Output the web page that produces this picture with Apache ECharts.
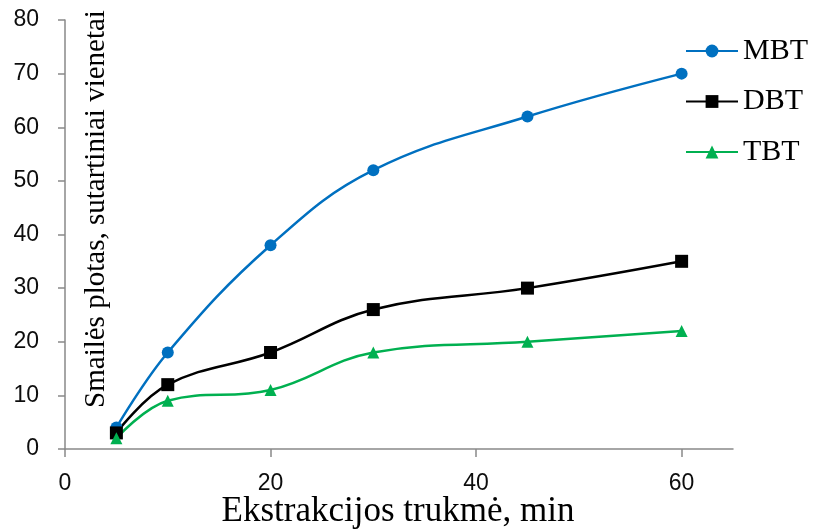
<!DOCTYPE html>
<html>
<head>
<meta charset="utf-8">
<script src="https://cdn.jsdelivr.net/npm/echarts@6/dist/echarts.min.js"></script>
<style>
  html, body { margin: 0; padding: 0; background: #fff; }
  #chart { width: 814px; height: 530px; }
</style>
</head>
<body>
<div id="chart"></div>
<script>
// Extraction time (min) and peak areas (arbitrary units)
var times = [5, 10, 20, 30, 45, 60];
var mbt = [4, 18, 38, 52, 62, 70];
var dbt = [3, 12, 18, 26, 30, 35];
var tbt = [2, 9, 11, 18, 20, 22];
var xTicks = [0, 20, 40, 60];
var seriesNames = ['MBT', 'DBT', 'TBT'];
var xTitle = 'Ekstrakcijos trukmė, min';
var yTitle = 'Smailės plotas, sutartiniai vienetai';

function pairs(ys) {
  return times.map(function (t, i) { return [t, ys[i]]; });
}

var chart = echarts.init(document.getElementById('chart'), null, { renderer: 'canvas' });

var axisGray = '#898989';
var labelFont = 'Liberation Sans';
var serif = '"Liberation Serif", "Times New Roman", serif';

function lineSeries(name, ys, color, symbol, size) {
  return {
    name: name,
    type: 'line',
    data: pairs(ys),
    smooth: 0.4,
    symbol: symbol,
    symbolSize: size,
    lineStyle: { color: color, width: 2.5 },
    itemStyle: { color: color },
    emphasis: { disabled: true },
    z: 3
  };
}

chart.setOption({
  animation: false,
  backgroundColor: '#ffffff',
  grid: { left: 65, right: 81, top: 20, bottom: 81, containLabel: false },
  xAxis: {
    type: 'value',
    min: 0,
    max: 65,
    interval: 20,
    splitLine: { show: false },
    axisLine: { lineStyle: { color: axisGray, width: 1.5 } },
    axisTick: { show: true, length: 8, lineStyle: { color: axisGray, width: 1.5 }, customValues: xTicks },
    axisLabel: { customValues: xTicks, color: '#0d0d0d', fontFamily: labelFont, fontSize: 23, margin: 23 }
  },
  yAxis: {
    type: 'value',
    min: 0,
    max: 80,
    interval: 10,
    splitLine: { show: false },
    axisLine: { show: true, lineStyle: { color: axisGray, width: 1.5 } },
    axisTick: { show: true, length: 7, lineStyle: { color: axisGray, width: 1.5 } },
    axisLabel: { color: '#0d0d0d', fontFamily: labelFont, fontSize: 23, margin: 26 }
  },
  legend: {
    orient: 'vertical',
    left: 685,
    top: 36,
    padding: 0,
    itemWidth: 52,
    itemHeight: 16,
    itemGap: 20.5,
    data: seriesNames,
    textStyle: { fontFamily: serif, fontSize: 30, color: '#000', lineHeight: 30 },
    selectedMode: false
  },
  graphic: [
    {
      type: 'text',
      x: 96,
      y: 209,
      rotation: Math.PI / 2,
      style: {
        text: yTitle,
        font: '29px "Liberation Serif"',
        fill: '#000',
        textAlign: 'center',
        textVerticalAlign: 'middle'
      },
      z: 10
    },
    {
      type: 'text',
      x: 398,
      y: 512,
      style: {
        text: xTitle,
        font: '35px "Liberation Serif"',
        fill: '#000',
        textAlign: 'center',
        textVerticalAlign: 'middle'
      },
      z: 10
    }
  ],
  series: [
    lineSeries(seriesNames[0], mbt, '#0070C0', 'circle', 12),
    lineSeries(seriesNames[1], dbt, '#000000', 'rect', 13),
    lineSeries(seriesNames[2], tbt, '#00B050', 'triangle', 12)
  ]
});
</script>
</body>
</html>
